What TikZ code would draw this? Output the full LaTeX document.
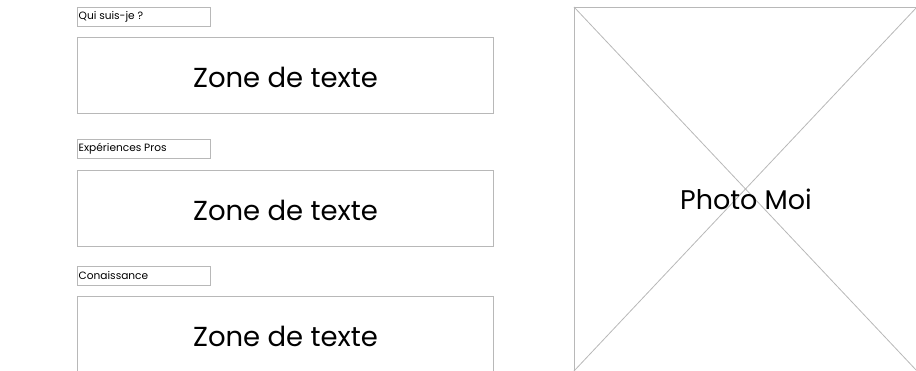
\documentclass[tikz,border=0pt]{standalone}
\usepackage{fontspec}
\setmainfont{Poppins}
\begin{document}
\begin{tikzpicture}[x=1pt,y=-1pt,
  frame/.style={draw=black!28, line width=0.9pt},
  lbl/.style={font=\fontsize{10.6}{12}\selectfont, anchor=west, inner sep=0pt},
  big/.style={font=\fontsize{27.5}{30}\selectfont, inner sep=0pt},
  photo/.style={font=\fontsize{27}{30}\selectfont, inner sep=0pt}]
\useasboundingbox (0,0) rectangle (916,371);
\begin{scope}
\clip (0,0) rectangle (916,371);
% left column
\foreach \n/\y/\t in {a/7/{Qui suis-je ?}, b/139/{Expériences Pros}, c/266/{Conaissance}}{
  \draw[frame] (77,\y) rectangle ++(133,19);
  \node[lbl] (l\n) at (78.5,\y+10) {\t};
}
\draw[frame] (77,37) rectangle (493,113);
\node[big] (za) at (285.5,77) {Zone de texte};
\draw[frame] (77,170) rectangle (493,246);
\node[big] (zb) at (285.5,210) {Zone de texte};
\draw[frame] (77,296) rectangle (493,372);
\node[big] (zc) at (285.5,336) {Zone de texte};
% photo
\coordinate (ptl) at (574,7);
\coordinate (ptr) at (917,7);
\coordinate (pbl) at (574,371);
\coordinate (pbr) at (917,371);
\draw[frame] (574,7) rectangle (918,372);
\draw[draw=black!28, line width=0.8pt] (ptl) -- (pbr);
\draw[draw=black!28, line width=0.8pt] (ptr) -- (pbl);
\node[photo] (ph) at (746,199) {Photo Moi};
\end{scope}
\end{tikzpicture}
\end{document}
